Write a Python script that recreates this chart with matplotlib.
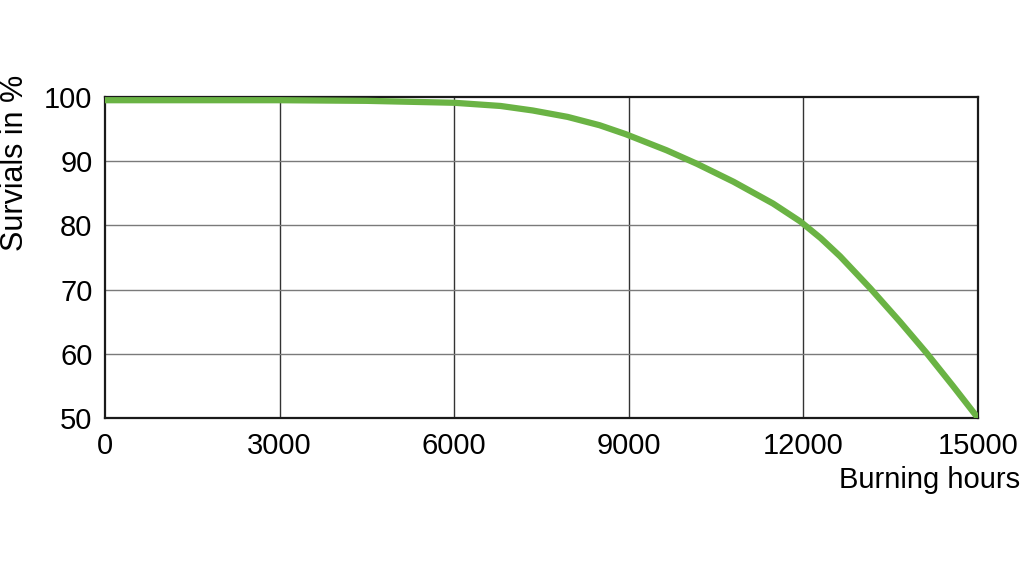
import matplotlib.pyplot as plt

plt.rcParams['font.family'] = ['Liberation Sans', 'DejaVu Sans']

# Values
hours = [0, 1500, 3000, 4500, 6000, 6800, 7350, 7950, 8500, 8950, 9650, 10170,
         10800, 11480, 11950, 12300, 12630, 13150, 13660, 14120, 14570, 15000]
survivals = [99.5, 99.5, 99.5, 99.4, 99.1, 98.6, 97.9, 96.9, 95.6, 94.2, 91.7, 89.6,
             86.8, 83.4, 80.6, 78.0, 75.2, 70.2, 65.0, 60.1, 55.0, 50.0]

x_ticks = [0, 3000, 6000, 9000, 12000, 15000]
y_ticks = [50, 60, 70, 80, 90, 100]

fig = plt.figure(figsize=(10.24, 5.77), dpi=100)
ax = fig.add_axes([0.1025, 0.2756, 0.8525, 0.5563])

ax.plot(hours, survivals, color='#6ab344', lw=4.5, solid_capstyle='round',
        solid_joinstyle='round', zorder=3)

ax.set_xlim(0, 15000)
ax.set_ylim(50, 100)
ax.set_xticks(x_ticks)
ax.set_yticks(y_ticks)
ax.tick_params(length=0, labelsize=21)
ax.tick_params(axis='x', pad=10)
ax.tick_params(axis='y', pad=9)

for x in x_ticks[1:-1]:
    ax.axvline(x, color='#333333', lw=1, zorder=1)
for y in y_ticks[1:-1]:
    ax.axhline(y, color='#7a7a7a', lw=1, zorder=1)

for s in ax.spines.values():
    s.set_linewidth(1.6)
    s.set_color('#1a1a1a')

fig.text(0.996, 0.168, 'Burning hours', ha='right', va='center', fontsize=21)
fig.text(0.015, 0.87, 'Survials in %', ha='center', va='top', rotation=90, fontsize=22)

plt.savefig('out.png', dpi=100)
